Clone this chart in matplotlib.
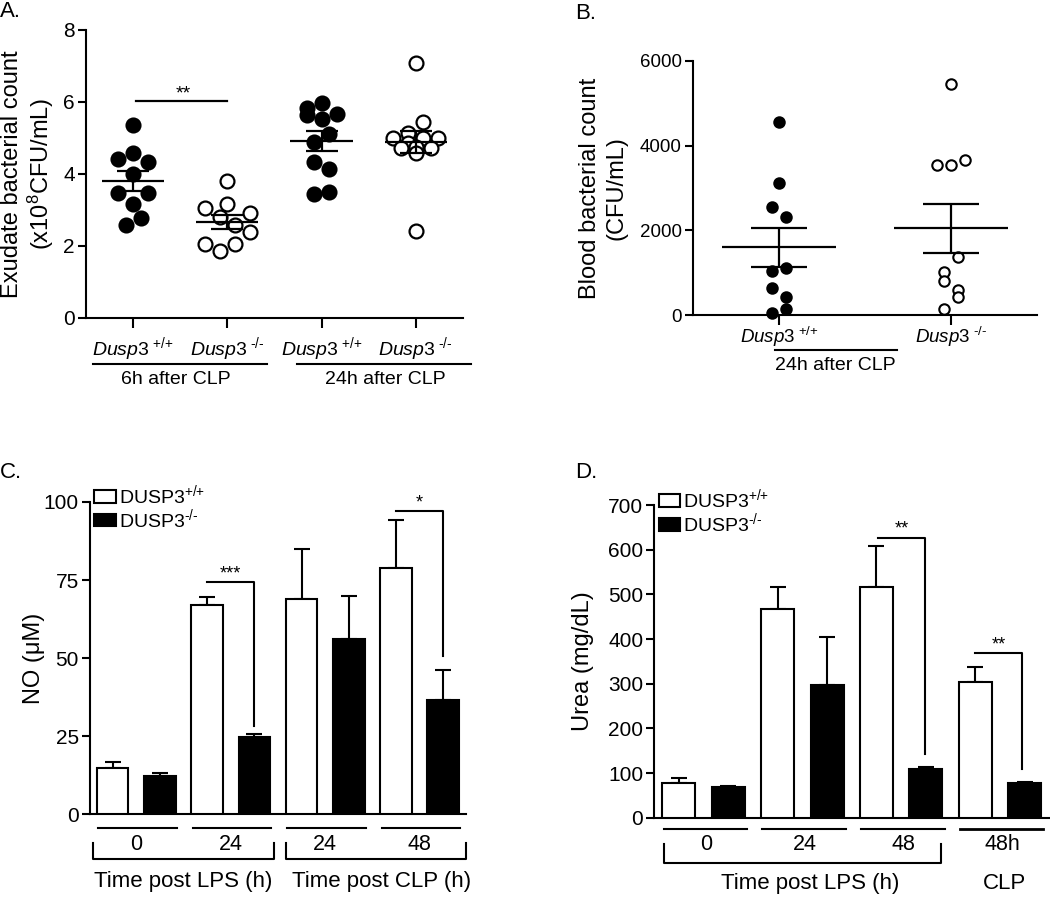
import numpy as np
import matplotlib
matplotlib.use('Agg')
import matplotlib.pyplot as plt
from matplotlib.patches import Patch

plt.rcParams['font.family'] = ['Liberation Sans', 'DejaVu Sans']
plt.rcParams['mathtext.fontset'] = 'custom'
plt.rcParams['mathtext.rm'] = 'Liberation Sans'
plt.rcParams['mathtext.it'] = 'Liberation Sans:italic'
plt.rcParams['axes.linewidth'] = 1.5

# ---- panel A: exudate bacterial count (x10^8 CFU/mL) ----
a_wt_6h = [5.36, 4.42, 4.58, 4.33, 4.0, 3.47, 3.47, 3.17, 2.78, 2.58]
a_ko_6h = [3.81, 3.05, 3.17, 2.92, 2.8, 2.58, 2.39, 2.06, 2.06, 1.86]
a_wt_24h = [5.83, 5.64, 5.96, 5.67, 5.52, 5.11, 4.88, 4.33, 4.15, 3.45, 3.49]
a_ko_24h = [7.07, 5.45, 5.13, 4.99, 4.99, 5.0, 4.85, 4.71, 4.76, 4.71, 4.57, 2.42]
a_groups = [a_wt_6h, a_ko_6h, a_wt_24h, a_ko_24h]
a_filled = [True, False, True, False]

# ---- panel B: blood bacterial count (CFU/mL) ----
b_wt = [4564, 3110, 2557, 2306, 1117, 1039, 645, 432, 134, 55]
b_ko = [5452, 3540, 3540, 3658, 1362, 1022, 810, 590, 417, 134]
b_groups = [b_wt, b_ko]
b_filled = [True, False]

genotype_labels = [r'$\mathit{Dusp3}^{\ \text{+/+}}$',
                   r'$\mathit{Dusp3}^{\ \text{-/-}}$']

# ---- panel C: NO (uM), bars alternate DUSP3+/+ / DUSP3-/- ----
c_means = [14.7, 12.4, 67.0, 24.7, 69.0, 56.0, 79.0, 36.5]
c_sem = [2.1, 0.9, 2.7, 0.9, 15.9, 13.9, 15.1, 9.7]
c_times = ['0', '24', '24', '48']

# ---- panel D: urea (mg/dL) ----
d_means = [78, 68, 467, 297, 516, 109, 303, 77]
d_sem = [11, 3, 49, 108, 92, 5, 35, 3]
d_times = ['0', '24', '48', '48h']

legend_labels = [r'DUSP3$^{\text{+/+}}$', r'DUSP3$^{\text{-/-}}$']

# jitter of the dots (layout only)
a_jitter = [[0, -0.16, 0, 0.16, 0, -0.16, 0.16, 0, 0.08, -0.08],
            [0, -0.24, 0, 0.24, -0.08, 0.08, 0.24, -0.24, 0.08, -0.08],
            [-0.16, -0.16, 0, 0.16, 0, 0.08, -0.08, -0.08, 0.08, -0.08, 0.08],
            [0, 0.08, -0.08, -0.24, 0.08, 0.24, -0.08, -0.16, 0, 0.16, 0, 0]]
b_jitter = [[0, 0, -0.04, 0.04, 0.04, -0.04, -0.04, 0.04, 0.04, -0.04],
            [0, -0.08, 0, 0.08, 0.04, -0.04, -0.04, 0.04, 0.04, -0.04]]

LW = 1.6


def dot_plot(ax, groups, jitter, filled, ms, mew, cap):
    for i, (vals, offs, fill) in enumerate(zip(groups, jitter, filled)):
        x = i + np.array(offs)
        ax.plot(x, vals, 'o', ms=ms, mfc='black' if fill else 'white',
                mec='black', mew=mew, ls='none', clip_on=False, zorder=3)
        m = np.mean(vals)
        sem = np.std(vals, ddof=1) / np.sqrt(len(vals))
        ax.hlines(m, i - 0.33, i + 0.33, color='black', lw=LW, zorder=4)
        ax.errorbar(i, m, yerr=sem, fmt='none', ecolor='black',
                    elinewidth=LW, capsize=cap, capthick=LW, zorder=4)


def clean(ax, ticksize, xpad=6):
    ax.spines['top'].set_visible(False)
    ax.spines['right'].set_visible(False)
    ax.tick_params(axis='y', length=6, width=1.5, labelsize=ticksize, pad=2)
    ax.tick_params(axis='x', length=7, width=1.5, pad=xpad)


def under(ax, x0, x1, y, lw=1.5):
    ax.plot([x0, x1], [y, y], color='black', lw=lw,
            transform=ax.get_xaxis_transform(), clip_on=False)


fig = plt.figure(figsize=(10.5, 8.97), dpi=100)

# ---------------- A ----------------
axA = fig.add_axes([0.0819, 0.6455, 0.359, 0.3211])
dot_plot(axA, a_groups, a_jitter, a_filled, ms=10, mew=1.6, cap=11.5)
axA.set_xlim(-0.5, 3.5)
axA.set_ylim(0, 8)
axA.set_yticks([0, 2, 4, 6, 8])
axA.set_xticks(range(4))
axA.set_xticklabels(genotype_labels * 2, fontsize=14)
clean(axA, 15, xpad=5)
axA.set_ylabel('Exudate bacterial count\n(x10$^{8}$CFU/mL)', fontsize=17,
               linespacing=1.12, labelpad=5)
axA.plot([0.03, 1.0], [6.04, 6.04], color='black', lw=LW)
axA.text(0.53, 5.98, '**', ha='center', va='bottom', fontsize=14)
under(axA, -0.43, 1.42, -0.16)
under(axA, 1.74, 3.59, -0.16)
axA.text(0.45, -0.212, '6h after CLP', transform=axA.get_xaxis_transform(),
         ha='center', va='center', fontsize=14)
axA.text(2.68, -0.212, '24h after CLP', transform=axA.get_xaxis_transform(),
         ha='center', va='center', fontsize=14)

# ---------------- B ----------------
axB = fig.add_axes([0.66, 0.6488, 0.3276, 0.2832])
dot_plot(axB, b_groups, b_jitter, b_filled, ms=7.5, mew=1.5, cap=20.5)
axB.set_xlim(-0.5, 1.5)
axB.set_ylim(0, 6000)
axB.set_yticks([0, 2000, 4000, 6000])
axB.set_xticks(range(2))
axB.set_xticklabels(genotype_labels, fontsize=13.5)
clean(axB, 13.5, xpad=0)
axB.set_ylabel('Blood bacterial count\n(CFU/mL)', fontsize=17,
               linespacing=1.25, labelpad=9)
under(axB, -0.023, 0.686, -0.138)
axB.text(0.33, -0.2, '24h after CLP', transform=axB.get_xaxis_transform(),
         ha='center', va='center', fontsize=14)


def bar_plot(ax, means, sems, legend_y):
    x = np.arange(len(means))
    colors = ['white', 'black'] * (len(means) // 2)
    ax.bar(x, means, width=0.67, color=colors, edgecolor='black',
           linewidth=1.5, zorder=3)
    ax.errorbar(x, means, yerr=[np.zeros(len(means)), sems], fmt='none',
                ecolor='black', elinewidth=1.5, capsize=5.8, capthick=1.5,
                zorder=2)
    ax.set_xticks([])
    handles = [Patch(facecolor='white', edgecolor='black', lw=1.5),
               Patch(facecolor='black', edgecolor='black', lw=1.5)]
    ax.legend(handles, legend_labels, loc='upper left',
              bbox_to_anchor=(0.012, legend_y), frameon=False, fontsize=14,
              handlelength=1.1, handleheight=0.62, handletextpad=0.15,
              labelspacing=0.0, borderaxespad=0, borderpad=0)


def bracket(ax, x0, x1, ytop, ybot, star):
    ax.plot([x0, x1, x1], [ytop, ytop, ybot], color='black', lw=1.5,
            zorder=4)
    ax.text((x0 + x1) / 2, ytop, star, ha='center', va='bottom',
            fontsize=13)


# ---------------- C ----------------
axC = fig.add_axes([0.0857, 0.0922, 0.3581, 0.3482])
bar_plot(axC, c_means, c_sem, 1.06)
axC.set_xlim(-0.48, 7.48)
axC.set_ylim(0, 100)
axC.set_yticks([0, 25, 50, 75, 100])
clean(axC, 15)
axC.set_ylabel('NO (\u03bcM)', fontsize=17, labelpad=-1)
bracket(axC, 2.0, 3.0, 74.3, 28.4, '***')
bracket(axC, 6.0, 7.0, 97.0, 50.7, '*')
for p, t in enumerate(c_times):
    under(axC, 2 * p - 0.3, 2 * p + 1.36, -0.043)
    axC.text(2 * p + 0.5, -0.098, t, transform=axC.get_xaxis_transform(),
             ha='center', va='center', fontsize=15.5)
for x0, x1 in [(-0.42, 3.42), (3.67, 7.49)]:
    axC.plot([x0, x0, x1, x1], [-0.091, -0.144, -0.144, -0.091], color='black',
             lw=1.5, transform=axC.get_xaxis_transform(), clip_on=False)
axC.text(1.49, -0.216, 'Time post LPS (h)', transform=axC.get_xaxis_transform(),
         ha='center', va='center', fontsize=16)
axC.text(5.7, -0.216, 'Time post CLP (h)', transform=axC.get_xaxis_transform(),
         ha='center', va='center', fontsize=16)

# ---------------- D ----------------
axD = fig.add_axes([0.6231, 0.0884, 0.3762, 0.3486])
bar_plot(axD, d_means, d_sem, 1.056)
axD.set_xlim(-0.5, 7.5)
axD.set_ylim(0, 700)
axD.set_yticks(range(0, 701, 100))
clean(axD, 15)
axD.set_ylabel('Urea (mg/dL)', fontsize=17, labelpad=10)
bracket(axD, 4.03, 4.98, 627, 142, '**')
bracket(axD, 6.0, 6.95, 368, 108, '**')
for p, t in enumerate(d_times):
    under(axD, 2 * p - 0.31, 2 * p + 1.38, -0.037, lw=2.0 if p == 3 else 1.5)
    axD.text(2 * p + 0.55, -0.087, t, transform=axD.get_xaxis_transform(),
             ha='center', va='center', fontsize=15.5)
axD.plot([-0.31, -0.31, 5.31, 5.31], [-0.084, -0.146, -0.146, -0.084],
         color='black', lw=1.5, transform=axD.get_xaxis_transform(),
         clip_on=False)
axD.text(2.65, -0.21, 'Time post LPS (h)', transform=axD.get_xaxis_transform(),
         ha='center', va='center', fontsize=16)
axD.text(6.6, -0.21, 'CLP', transform=axD.get_xaxis_transform(),
         ha='center', va='center', fontsize=16)

# panel letters
fig.text(0.0, 0.987, 'A.', ha='left', va='center', fontsize=16)
fig.text(0.548, 0.985, 'B.', ha='left', va='center', fontsize=16)
fig.text(0.0, 0.4727, 'C.', ha='left', va='center', fontsize=16)
fig.text(0.548, 0.4727, 'D.', ha='left', va='center', fontsize=16)

fig.savefig('out.png', dpi=100)
